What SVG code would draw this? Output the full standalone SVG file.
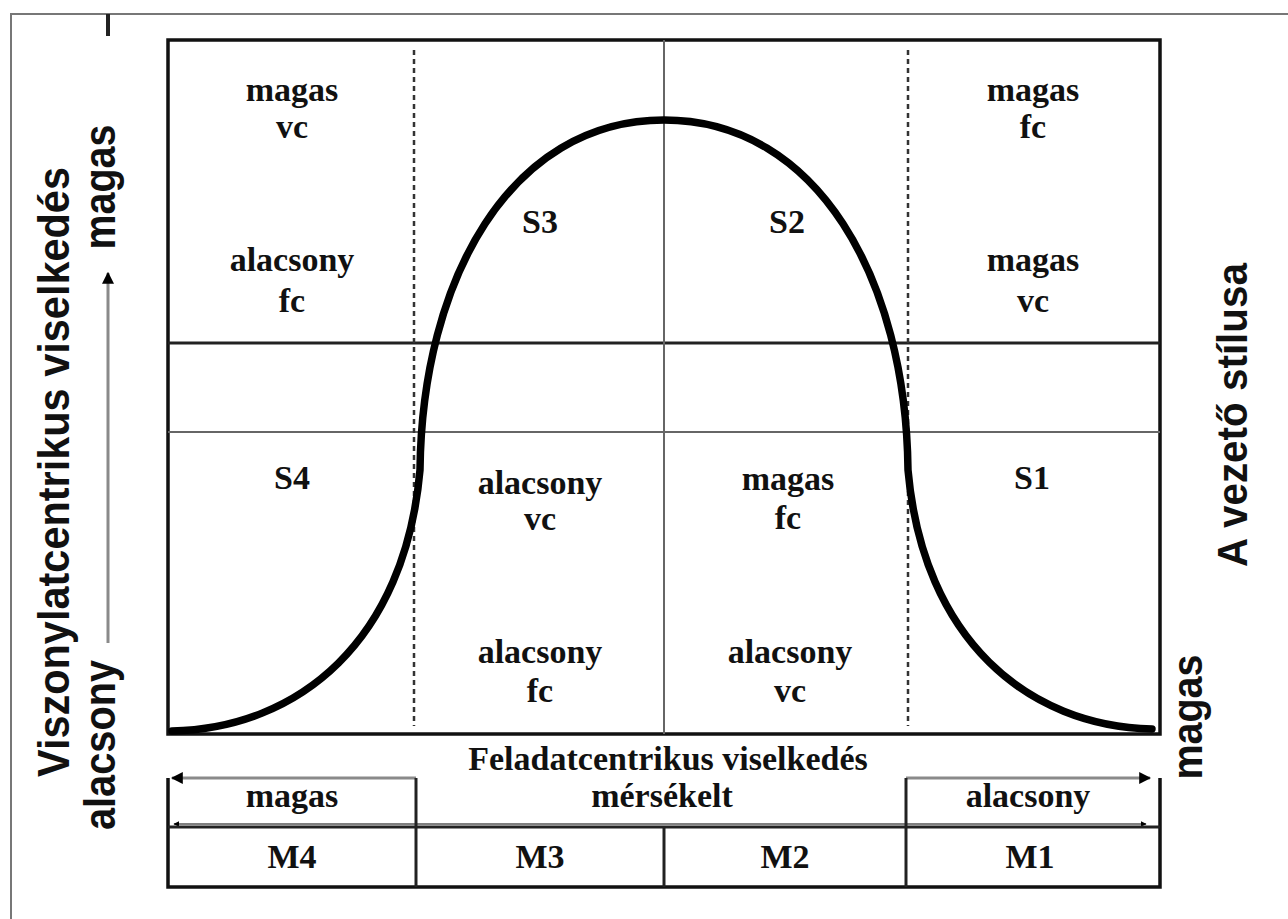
<svg xmlns="http://www.w3.org/2000/svg" width="1288" height="919" viewBox="0 0 1288 919">
<style>
.frame{stroke:#777;stroke-width:2;fill:none}
.box{stroke:#111;stroke-width:3.5;fill:none}
.hthick{stroke:#222;stroke-width:3;fill:none}
.thin{stroke:#666;stroke-width:2;fill:none}
.dash{stroke:#333;stroke-width:2.5;stroke-dasharray:5 4;fill:none}
.curve{stroke:#000;stroke-width:7.5;fill:none;stroke-linecap:round}
.arr{stroke:#8a8a8a;stroke-width:3;fill:none}
.serif{font-family:"Liberation Serif","Times New Roman",serif;font-weight:bold;font-size:34px;fill:#111;text-anchor:middle}
.sans{font-family:"Liberation Sans",Arial,sans-serif;font-weight:bold;fill:#111;text-anchor:middle}
</style>
<defs>
<marker id="ah" viewBox="0 0 10 10" refX="9" refY="5" markerWidth="4" markerHeight="4" orient="auto-start-reverse">
<path d="M0,0 L10,5 L0,10 z" fill="#000"/>
</marker>
</defs>
<rect width="1288" height="919" fill="#fff"/>
<g id="frame">
<path class="frame" d="M11,919 V14 H1288"/>
<rect x="106" y="14" width="4" height="22" fill="#222"/>
</g>
<g id="grid">
<rect class="box" x="168" y="40" width="992" height="694"/>
<line class="hthick" x1="168" y1="343" x2="1160" y2="343"/>
<line class="thin" x1="168" y1="432" x2="1160" y2="432"/>
<line class="thin" x1="664" y1="40" x2="664" y2="734"/>
<line class="dash" x1="414" y1="50" x2="414" y2="726"/>
<line class="dash" x1="908" y1="50" x2="908" y2="726"/>
</g>
<g id="connectors">
<path class="curve" d="M172,731 C300,728 405,640 420,470 C422,280 510,120 664,120 C818,120 906,280 908,470 C923,640 1028,726 1152,729"/>
<line class="arr" x1="108" y1="643" x2="108" y2="273" marker-end="url(#ah)"/>
<line class="arr" x1="416" y1="778" x2="172" y2="778" marker-end="url(#ah)"/>
<line class="arr" x1="906" y1="778" x2="1150" y2="778" marker-end="url(#ah)"/>
<line stroke="#555" stroke-width="1.5" x1="174" y1="824" x2="1146" y2="824" marker-start="url(#ah)" marker-end="url(#ah)"/>
</g>
<g id="cell-top-left">
<text class="serif" x="292" y="101">magas</text>
<text class="serif" x="292" y="138">vc</text>
<text class="serif" x="292" y="271">alacsony</text>
<text class="serif" x="292" y="312">fc</text>
</g>
<g id="cell-s3"><text class="serif" x="540" y="233">S3</text></g>
<g id="cell-s2"><text class="serif" x="787" y="233">S2</text></g>
<g id="cell-top-right">
<text class="serif" x="1033" y="101">magas</text>
<text class="serif" x="1033" y="138">fc</text>
<text class="serif" x="1033" y="271">magas</text>
<text class="serif" x="1033" y="312">vc</text>
</g>
<g id="cell-s4"><text class="serif" x="292" y="489">S4</text></g>
<g id="cell-bottom-mid-left">
<text class="serif" x="540" y="494">alacsony</text>
<text class="serif" x="540" y="530">vc</text>
<text class="serif" x="540" y="663">alacsony</text>
<text class="serif" x="540" y="702">fc</text>
</g>
<g id="cell-bottom-mid-right">
<text class="serif" x="788" y="490">magas</text>
<text class="serif" x="788" y="529">fc</text>
<text class="serif" x="790" y="663">alacsony</text>
<text class="serif" x="790" y="702">vc</text>
</g>
<g id="cell-s1"><text class="serif" x="1032" y="489">S1</text></g>
<g id="x-axis-label"><text class="serif" x="668" y="770">Feladatcentrikus viselkedés</text></g>
<g id="maturity-table">
<path class="box" d="M168,778 V887 H1160 V778"/>
<line class="hthick" x1="168" y1="827" x2="1160" y2="827"/>
<line class="hthick" x1="416" y1="778" x2="416" y2="887"/>
<line class="hthick" x1="906" y1="778" x2="906" y2="887"/>
<line class="hthick" x1="664" y1="827" x2="664" y2="887"/>
<text class="serif" x="292" y="807">magas</text>
<text class="serif" x="662" y="807">mérsékelt</text>
<text class="serif" x="1028" y="807">alacsony</text>
<text class="serif" x="292" y="868">M4</text>
<text class="serif" x="540" y="868">M3</text>
<text class="serif" x="785" y="868">M2</text>
<text class="serif" x="1030" y="868">M1</text>
</g>
<g id="y-axis-labels">
<text class="sans" font-size="44" textLength="610" lengthAdjust="spacingAndGlyphs" transform="translate(69,472) rotate(-90)">Viszonylatcentrikus viselkedés</text>
<text class="sans" font-size="44" textLength="125" lengthAdjust="spacingAndGlyphs" transform="translate(115,187) rotate(-90)">magas</text>
<text class="sans" font-size="44" textLength="170" lengthAdjust="spacingAndGlyphs" transform="translate(115,745) rotate(-90)">alacsony</text>
</g>
<g id="right-labels">
<text class="sans" font-size="42" textLength="304" lengthAdjust="spacingAndGlyphs" transform="translate(1247,415) rotate(-90)">A vezető stílusa</text>
<text class="sans" font-size="42" textLength="125" lengthAdjust="spacingAndGlyphs" transform="translate(1202,717) rotate(-90)">magas</text>
</g>
</svg>
